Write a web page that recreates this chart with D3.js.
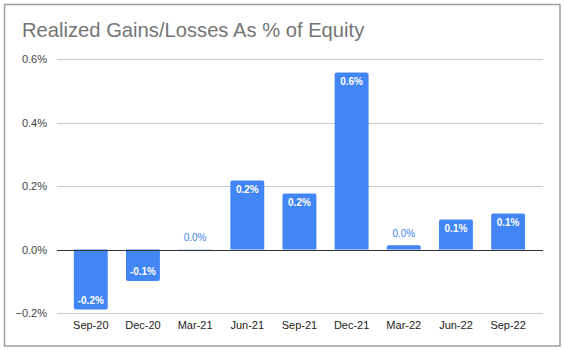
<!DOCTYPE html>
<html><head><meta charset="utf-8">
<script src="https://cdn.jsdelivr.net/npm/d3@7"></script>
<style>body{margin:0;background:#fff;}svg{display:block;font-family:"Liberation Sans",Arial,sans-serif;}</style>
</head><body>
<svg id="chart" width="564" height="350"></svg>
<script>
const title = "Realized Gains/Losses As % of Equity";
const categories = ["Sep-20","Dec-20","Mar-21","Jun-21","Sep-21","Dec-21","Mar-22","Jun-22","Sep-22"];
const values = [-0.189, -0.099, 0.0008, 0.218, 0.177, 0.558, 0.0135, 0.095, 0.114];
const labels = ["-0.2%","-0.1%","0.0%","0.2%","0.2%","0.6%","0.0%","0.1%","0.1%"];
const yTicks = [-0.2, 0.0, 0.2, 0.4, 0.6];

const svg = d3.select("#chart");
svg.append("rect").attr("x",4.5).attr("y",4.5).attr("width",555.5).attr("height",341.5)
  .attr("fill","#fff").attr("stroke","#9e9e9e").attr("stroke-width",1.5);

svg.append("text").attr("x",22).attr("y",36.5).attr("font-size",20.2).attr("fill","#757575").text(title);

const gridL = 57, gridR = 543;
const y = d3.scaleLinear().domain([-0.2,0.6]).range([313,59.3]);
const x = d3.scaleBand().domain(categories).range([64.7,534.2]).paddingInner(0.35).paddingOuter(0.175);

const yAxis = d3.axisLeft(y).tickValues(yTicks).tickFormat(d => d3.format(".1f")(d)+"%").tickSize(0);
const gy = svg.append("g").attr("transform",`translate(${gridL-7},0)`).call(yAxis);
gy.select(".domain").remove();
gy.selectAll("text").attr("font-size",11).attr("fill","#444").attr("font-family","Liberation Sans, Arial, sans-serif").attr("dy","0.32em");

svg.append("g").selectAll("line").data(yTicks.filter(d=>d!==0)).join("line")
  .attr("x1",gridL).attr("x2",gridR).attr("y1",d=>Math.round(y(d))+0.5).attr("y2",d=>Math.round(y(d))+0.5)
  .attr("stroke","#cccccc").attr("stroke-width",1);

const r = 2;
function barPath(d){
  const x0 = x(d.c), w = x.bandwidth();
  const y0 = y(0), y1 = y(d.v);
  const h = Math.abs(y1-y0);
  const rr = Math.min(r, h/2, w/2);
  if (d.v >= 0) {
    return `M${x0},${y0} V${y1+rr} Q${x0},${y1} ${x0+rr},${y1} H${x0+w-rr} Q${x0+w},${y1} ${x0+w},${y1+rr} V${y0} Z`;
  } else {
    return `M${x0},${y0} V${y1-rr} Q${x0},${y1} ${x0+rr},${y1} H${x0+w-rr} Q${x0+w},${y1} ${x0+w},${y1-rr} V${y0} Z`;
  }
}
const data = categories.map((c,i)=>({c, v:values[i], l:labels[i]}));
svg.append("g").selectAll("path").data(data).join("path")
  .attr("d",barPath).attr("fill","#4285f4");

svg.append("line").attr("x1",gridL).attr("x2",gridR).attr("y1",Math.round(y(0))+0.5).attr("y2",Math.round(y(0))+0.5)
  .attr("stroke","#333").attr("stroke-width",1);

const xAxis = d3.axisBottom(x).tickSize(0);
const gx = svg.append("g").attr("transform",`translate(0,318)`).call(xAxis);
gx.select(".domain").remove();
gx.selectAll("text").attr("font-size",11).attr("fill","#222").attr("font-family","Liberation Sans, Arial, sans-serif");

svg.append("g").selectAll("text").data(data).join("text")
  .attr("x",d=>x(d.c)+x.bandwidth()/2)
  .attr("y",d=>{
    const h = Math.abs(y(d.v)-y(0));
    if (h < 18) return y(d.v) - 12;
    return d.v>=0 ? y(d.v)+9 : y(d.v)-9;
  })
  .attr("dy","0.35em").attr("text-anchor","middle").attr("font-size",10)
  .attr("fill",d=>Math.abs(y(d.v)-y(0))<18 ? "#4285f4" : "#fff")
  .attr("font-weight",d=>Math.abs(y(d.v)-y(0))<18 ? "normal" : "bold")
  .text(d=>d.l);
</script>
</body></html>
